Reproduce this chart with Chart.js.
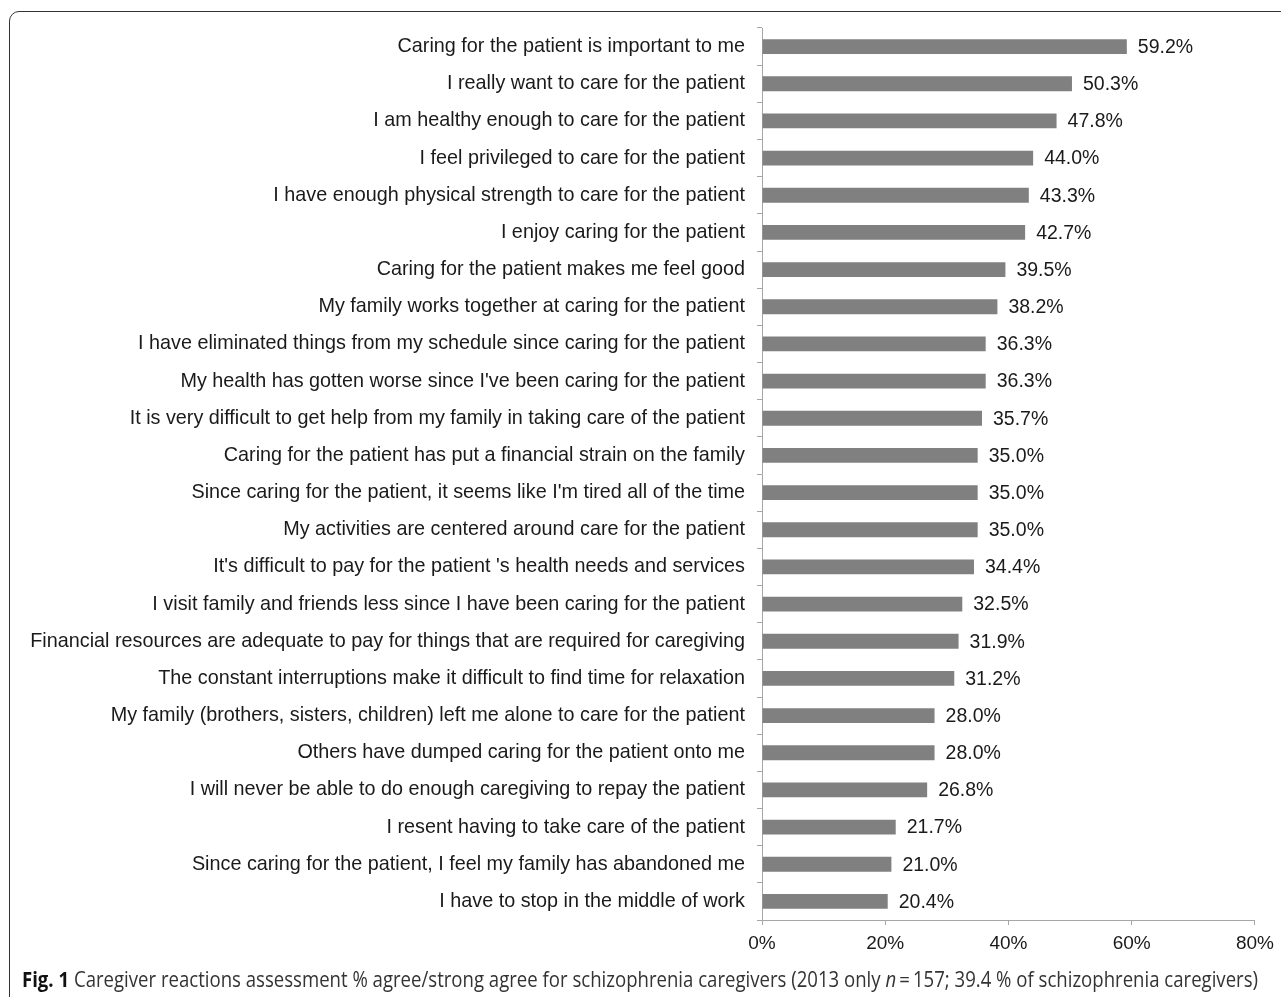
<!DOCTYPE html>
<html>
<head>
<meta charset="utf-8">
<script src="https://cdn.jsdelivr.net/npm/chart.js@4.4.1/dist/chart.umd.min.js"></script>
<style>
  html, body { margin: 0; padding: 0; background: #fff; }
  body { width: 1281px; height: 997px; position: relative; overflow: hidden; }
  #frame { position: absolute; left: 9px; top: 11px; width: 1400px; height: 1100px;
           border: 1.5px solid #333; border-radius: 10px; box-sizing: border-box; }
  #wrap { position: absolute; left: 0; top: 0; width: 1281px; height: 997px; }
  #caption { position: absolute; left: 22px; top: 965px; white-space: nowrap;
             font-family: "Open Sans", "Noto Sans", sans-serif; font-size: 21px; color: #333;
             transform-origin: 0 0; }
  #caption b { color: #111; }
</style>
</head>
<body>
<div id="frame"></div>
<div id="wrap"><canvas id="c" width="1281" height="997"></canvas></div>
<div id="caption"><b>Fig. 1</b> Caregiver reactions assessment % agree/strong agree for schizophrenia caregivers (2013 only <i>n</i>&thinsp;=&thinsp;157; 39.4 % of schizophrenia caregivers)</div>
<script>
const categories = [
  "Caring for the patient is important to me",
  "I really want to care for the patient",
  "I am healthy enough to care for the patient",
  "I feel privileged to care for the patient",
  "I have enough physical strength to care for the patient",
  "I enjoy caring for the patient",
  "Caring for the patient makes me feel good",
  "My family works together at caring for the patient",
  "I have eliminated things from my schedule since caring for the patient",
  "My health has gotten worse since I've been caring for the patient",
  "It is very difficult to get help from my family in taking care of the patient",
  "Caring for the patient has put a financial strain on the family",
  "Since caring for the patient, it seems like I'm tired all of the time",
  "My activities are centered around care for the patient",
  "It's difficult to pay for the patient 's health needs and services",
  "I visit family and friends less since I have been caring for the patient",
  "Financial resources are adequate to pay for things that are required for caregiving",
  "The constant interruptions make it difficult to find time for relaxation",
  "My family (brothers, sisters, children) left me alone to care for the patient",
  "Others have dumped caring for the patient onto me",
  "I will never be able to do enough caregiving to repay the patient",
  "I resent having to take care of the patient",
  "Since caring for the patient, I feel my family has abandoned me",
  "I have to stop in the middle of work"
];
const agreePercent = [59.2, 50.3, 47.8, 44.0, 43.3, 42.7, 39.5, 38.2, 36.3, 36.3, 35.7, 35.0, 35.0, 35.0, 34.4, 32.5, 31.9, 31.2, 28.0, 28.0, 26.8, 21.7, 21.0, 20.4];
const xTicks = [0, 20, 40, 60, 80];

// caption fit
(function(){
  const cap = document.getElementById('caption');
  const w = cap.getBoundingClientRect().width;
  const target = 1236;
  cap.style.transform = 'scaleX(' + (target / w) + ')';
})();

const valueLabels = {
  id: 'valueLabels',
  afterDatasetsDraw(chart) {
    const ctx = chart.ctx;
    const meta = chart.getDatasetMeta(0);
    ctx.save();
    ctx.font = '19.5px "Liberation Sans", Arial, sans-serif';
    ctx.fillStyle = '#1a1a1a';
    ctx.textAlign = 'left';
    ctx.textBaseline = 'middle';
    meta.data.forEach((bar, i) => {
      ctx.fillText(agreePercent[i].toFixed(1) + '%', bar.x + 11, bar.y + 1);
    });
    ctx.restore();
  }
};

const axisColor = '#a6a6a6';
new Chart(document.getElementById('c'), {
  type: 'bar',
  data: {
    labels: categories,
    datasets: [{
      data: agreePercent,
      backgroundColor: '#808080',
      borderWidth: 0,
      barPercentage: 0.4,
      categoryPercentage: 1.0
    }]
  },
  options: {
    indexAxis: 'y',
    responsive: false,
    animation: false,
    devicePixelRatio: 1,
    layout: { padding: { top: 28, right: 26, left: 0, bottom: 0 } },
    plugins: { legend: { display: false }, tooltip: { enabled: false } },
    scales: {
      x: {
        min: 0, max: 80,
        afterBuildTicks(scale) { scale.ticks = xTicks.map(v => ({ value: v })); },
        afterFit(scale) { scale.height = 997 - 920; },
        border: { display: true, color: axisColor, width: 1 },
        grid: { drawOnChartArea: false, drawTicks: true, tickLength: 5, color: axisColor },
        ticks: {
          callback: v => v + '%',
          font: { family: '"Liberation Sans", Arial, sans-serif', size: 19 },
          color: '#1a1a1a',
          padding: 7,
          maxRotation: 0
        }
      },
      y: {
        afterFit(scale) { scale.width = 762; },
        border: { display: true, color: axisColor, width: 1 },
        grid: { drawOnChartArea: false, drawTicks: true, tickLength: 5, color: axisColor, offset: true },
        ticks: {
          font: { family: '"Liberation Sans", Arial, sans-serif', size: 19.8 },
          color: '#1a1a1a',
          padding: 12,
          autoSkip: false
        }
      }
    }
  },
  plugins: [valueLabels]
});
</script>
</body>
</html>
